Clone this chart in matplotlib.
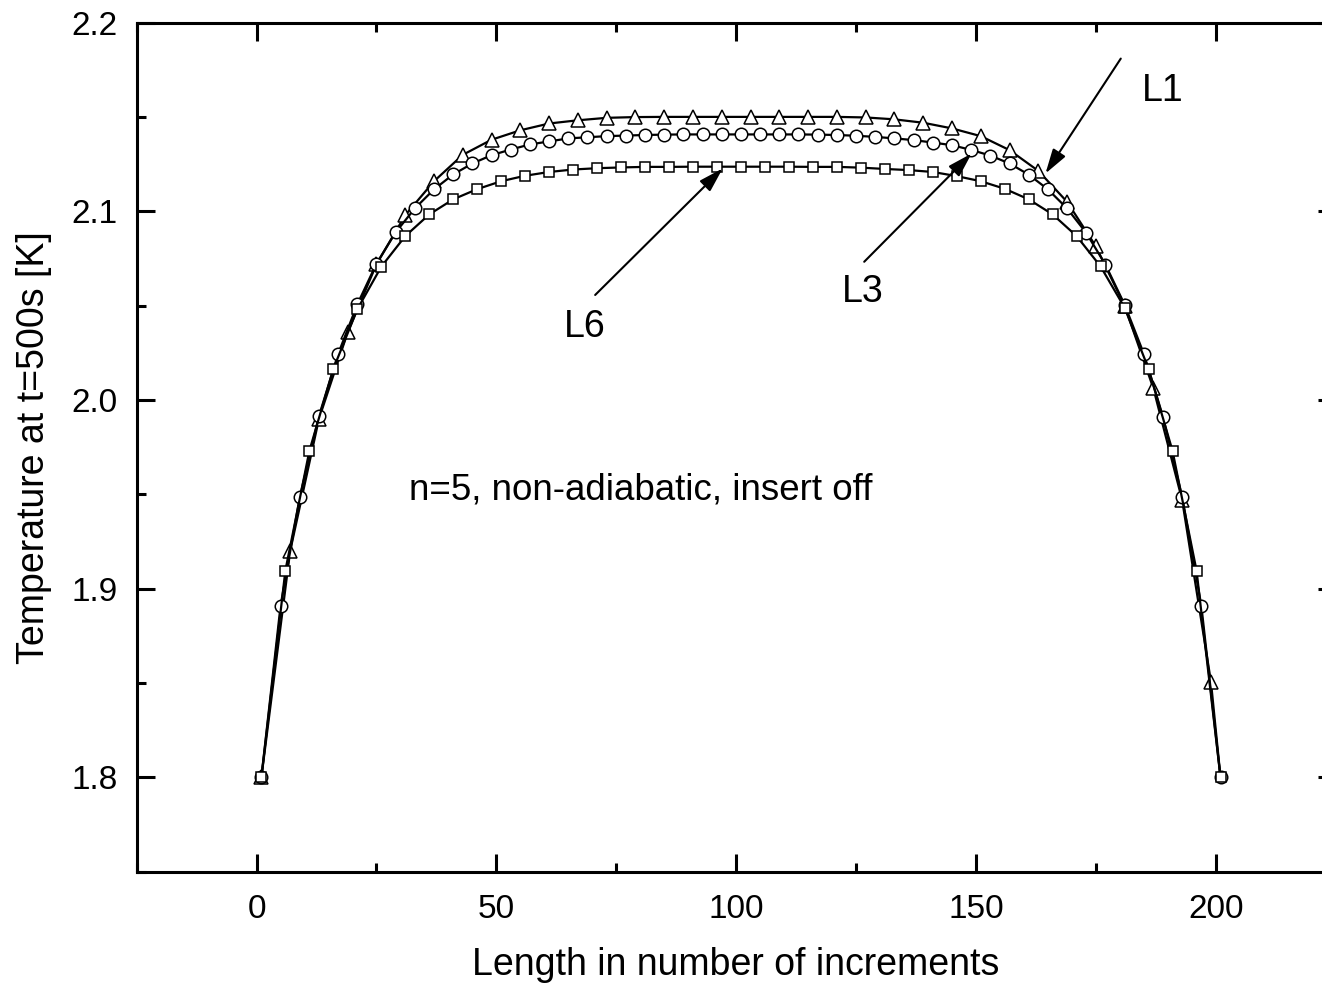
import numpy as np
import matplotlib.pyplot as plt
from matplotlib.ticker import MultipleLocator

plt.rcParams['font.family'] = ['Liberation Sans', 'DejaVu Sans']

# --- L1: triangles, every 6th increment (line runs on to 201) ---
l1_x = [1, 7, 13, 19, 25, 31, 37, 43, 49, 55, 61, 67, 73, 79, 85, 91, 97,
        103, 109, 115, 121, 127, 133, 139, 145, 151, 157, 163, 169, 175, 181,
        187, 193, 199, 201]
l1_t = [1.800, 1.920, 1.990, 2.036, 2.072, 2.098, 2.116, 2.130, 2.138, 2.143,
        2.1466, 2.1483, 2.1496, 2.1500, 2.1501, 2.1501, 2.1501, 2.1501, 2.1501,
        2.1501, 2.1501, 2.1498, 2.1488, 2.1470, 2.1440, 2.1399, 2.1325, 2.1215,
        2.1051, 2.0815, 2.0500, 2.0062, 1.9470, 1.8508, 1.800]

# --- L3: circles, every 4th increment ---
l3_x = list(range(1, 202, 4))
l3_t = [1.800, 1.891, 1.9485, 1.9915, 2.0244, 2.0507, 2.0723, 2.0889, 2.1016,
        2.1117, 2.1196, 2.1254, 2.1298, 2.1328, 2.1355, 2.1371, 2.1387, 2.1393,
        2.1399, 2.1402, 2.1405, 2.1407, 2.1408, 2.1408, 2.1408, 2.1408, 2.1408,
        2.1408, 2.1408, 2.1407, 2.1405, 2.1401, 2.1395, 2.1387, 2.1378, 2.1365,
        2.1351, 2.1326, 2.1296, 2.1254, 2.1195, 2.1117, 2.1016, 2.0886, 2.0718,
        2.0506, 2.0246, 1.9912, 1.9487, 1.8910, 1.800]

# --- L6: squares, every 5th increment ---
l6_x = list(range(1, 202, 5))
l6_t = [1.800, 1.9096, 1.973, 2.0165, 2.0481, 2.0707, 2.0869, 2.0984, 2.1064,
        2.1118, 2.1160, 2.1189, 2.1209, 2.1222, 2.1229, 2.1233, 2.1236, 2.1236,
        2.1237, 2.1237, 2.1237, 2.1237, 2.1237, 2.1236, 2.1236, 2.1232, 2.1225,
        2.1219, 2.1209, 2.1187, 2.1160, 2.1120, 2.1064, 2.0984, 2.0869, 2.0708,
        2.0490, 2.0165, 1.973, 1.9096, 1.800]

# annotation: (label, label pos, arrow tail, arrow tip)
notes = [
    ('L1', (189.0, 2.1638), (180.2, 2.1810), (164.5, 2.1201)),
    ('L3', (126.5, 2.0573), (126.7, 2.0733), (149.1, 2.1307)),
    ('L6', (68.5, 2.0387), (70.6, 2.0557), (97.2, 2.1228)),
]

fig = plt.figure(figsize=(13.22, 9.89), dpi=100)
ax = fig.add_axes([0.1034, 0.1186, 0.9069, 0.8584])

line_kw = dict(color='black', lw=1.6, mfc='white', mec='black', mew=1.1)
ax.plot(l1_x, l1_t, marker='^', ms=9.5, markevery=list(range(len(l1_x) - 1)), **line_kw)
ax.plot(l3_x, l3_t, marker='o', ms=9, **line_kw)
ax.plot(l6_x, l6_t, marker='s', ms=7.5, **line_kw)

for label, pos, tail, tip in notes:
    ax.annotate('', xy=tip, xytext=tail,
                arrowprops=dict(arrowstyle='-|>,head_length=0.6,head_width=0.18',
                                mutation_scale=25, color='black', lw=1.5,
                                shrinkA=0, shrinkB=0))
    ax.text(pos[0], pos[1], label, fontsize=27, ha='center', va='center')

ax.text(31.8, 1.9524, 'n=5, non-adiabatic, insert off', fontsize=26.5,
        ha='left', va='center')

ax.set_xlim(-25, 225)
ax.set_ylim(1.75, 2.2)
ax.xaxis.set_major_locator(MultipleLocator(50))
ax.xaxis.set_minor_locator(MultipleLocator(25))
ax.yaxis.set_major_locator(MultipleLocator(0.1))
ax.yaxis.set_minor_locator(MultipleLocator(0.05))

ax.tick_params(which='both', direction='in', top=True, right=True, width=2.2,
               labelsize=24)
ax.tick_params(which='major', length=13)
ax.tick_params(which='minor', length=6.5)
ax.tick_params(axis='x', pad=16)
ax.tick_params(axis='y', pad=14)
ax.yaxis.set_major_formatter(plt.FuncFormatter(lambda v, p: f'{v:.1f}'))

for sp in ax.spines.values():
    sp.set_linewidth(2.2)

ax.set_xlabel('Length in number of increments', fontsize=27, labelpad=16)
ax.set_ylabel('Temperature at t=500s [K]', fontsize=27, labelpad=14)

fig.savefig('out.png', dpi=100)
